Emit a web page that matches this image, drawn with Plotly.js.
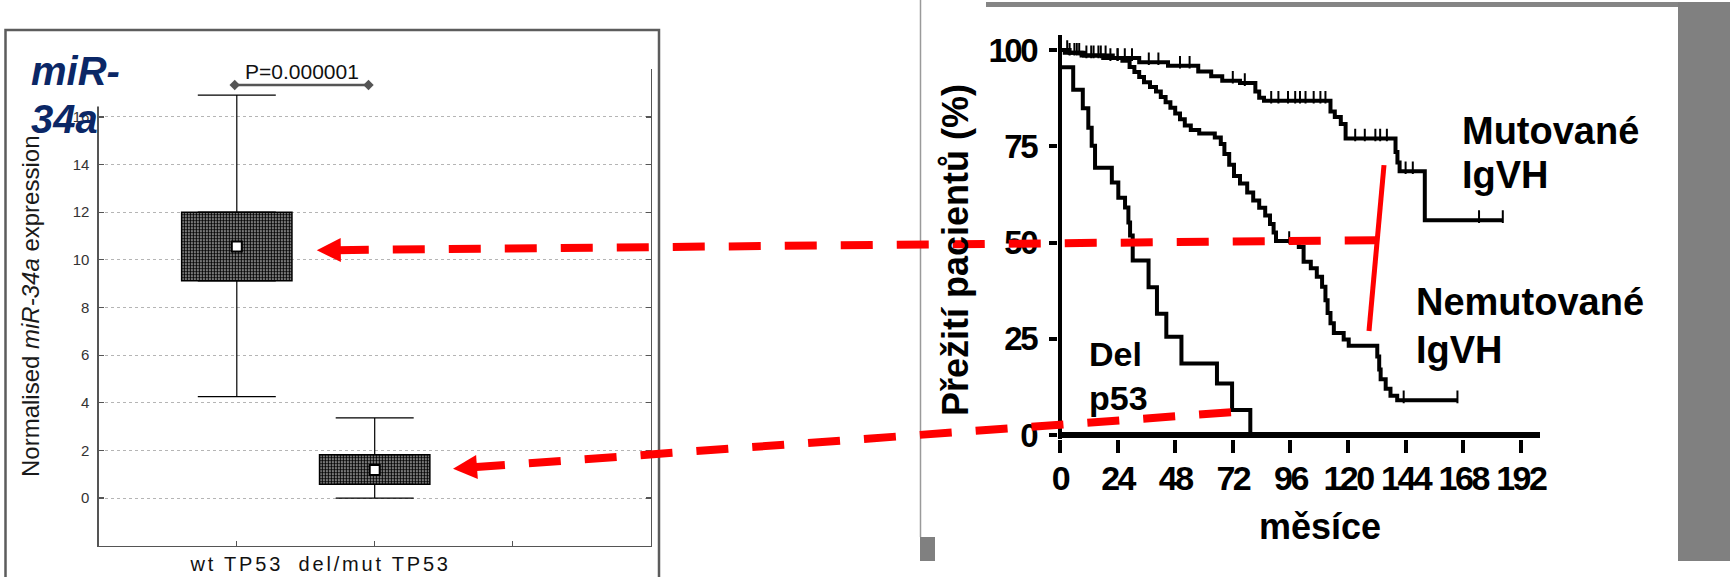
<!DOCTYPE html>
<html>
<head>
<meta charset="utf-8">
<script src="https://cdn.plot.ly/plotly-3.0.1.min.js"></script>
<style>
  html, body { margin: 0; padding: 0; background: #ffffff; }
  #chart { width: 1730px; height: 577px; }
  /* wide category labels under the box plot */
  #chart .xtick text { letter-spacing: 2.8px; }
  /* tight, condensed-looking digits on the survival axes */
  #chart .x2tick text, #chart .y2tick text { letter-spacing: -2.5px; }
</style>
</head>
<body>
<div id="chart"></div>
<script>
// ---------- miR-34a expression by TP53 status ----------
const groups      = ['wt TP53', 'del/mut TP53'];
const groupPos    = [1, 2];
const meanExpr    = [10.56, 1.18];
const boxLow      = [9.12, 0.58];
const boxHigh     = [12.0, 1.82];
const whiskerLow  = [4.26, 0.0];
const whiskerHigh = [16.92, 3.37];
const exprTicks   = [0, 2, 4, 6, 8, 10, 12, 14, 16];
const pValueText  = 'P=0.000001';
const pBracketX   = [0.985, 1.955];
const pBracketY   = 17.34;

// ---------- overall survival (Kaplan-Meier), months vs % ----------
const monthTicks = [0, 24, 48, 72, 96, 120, 144, 168, 192];
const survTicks  = [0, 25, 50, 75, 100];

const mutMonths = [0, 2, 9, 22, 33, 45, 57.6, 63, 67.6, 75, 81.4, 83, 85, 112.7, 114.5, 117, 119, 139.8, 140.6, 141.5, 152, 184.5];
const mutSurv   = [100, 99.3, 98.6, 97.9, 96.8, 95.9, 94.4, 93.2, 92.0, 91.4, 89.2, 87.6, 86.8, 84.0, 82.6, 80.8, 77.0, 73.5, 70.8, 68.5, 55.8, 55.8];
const mutCensor = [4, 7, 11, 14, 17, 19, 24, 27, 30, 37, 41, 50, 54, 72, 77, 88, 91, 95, 98, 100, 102.3, 105.7, 108.5, 110.6, 123, 127, 131.4, 133.4, 136.2, 144, 147, 174.6, 184.5];

const unmMonths = [0, 4, 10, 18, 26, 29, 31, 33, 35, 37.5, 40, 42, 44, 46, 48, 50, 52, 54.5, 58, 64.5, 67, 68.5, 70.5, 72.5, 75, 78, 80.5, 83, 85.5, 87.5, 89, 90, 99.5, 101.5, 104.5, 107, 109.2, 110.6, 111.5, 112.7, 114.1, 118.2, 120.3, 132.2, 133, 133.6, 135.7, 137.7, 140.5, 165.6];
const unmSurv   = [100, 99.3, 98.6, 97.9, 97.2, 95.6, 94.3, 93.0, 91.6, 90.4, 89.2, 87.8, 86.4, 85.0, 83.5, 82.0, 80.4, 79.2, 78.3, 77.3, 75.6, 73.0, 70.2, 67.3, 65.3, 63.0, 60.9, 59.0, 57.0, 54.8, 52.6, 50.4, 48.8, 45.0, 43.3, 41.1, 38.5, 35.0, 31.7, 29.0, 26.5, 24.8, 23.2, 20.4, 17.0, 14.5, 12.0, 10.2, 9.0, 9.0];
const unmCensor = [3, 6, 8, 13, 16, 21, 24, 95.5, 143.2, 165.6];

const delMonths = [0, 0, 5.5, 9.5, 11.8, 13.2, 14.6, 21.6, 24.3, 27.1, 28.5, 29.2, 30.3, 36.9, 40.4, 44.3, 50.6, 65.4, 71.7, 79.3];
const delSurv   = [100, 95.5, 89.7, 84.9, 79.8, 75.1, 69.4, 65.6, 61.6, 59.1, 55.2, 51.8, 45.3, 38.4, 31.5, 25.5, 18.6, 13.4, 6.5, 0];

// red connectors: arrow tips in the box plot, tails on the survival curves
const arrowTipX  = [1.58, 2.568];
const arrowTipY  = [10.4, 1.23];
const arrowTailM = [132.1, 73.5];
const arrowTailS = [50.6, 6.0];
// solid marker between the IgVH curves
const gapMonths = [135, 128.75];
const gapSurv   = [70.1, 27.0];

// ---------- page geometry ----------
const W = 1730, H = 577;
const boxPanel = {left: 98.9, right: 650.5, top: 69.3, bottom: 545.7, xr: [0, 4], yr: [-2, 18]};
const kmPanel  = {left: 1057.6, right: 1540, top: 34.6, bottom: 438.85, xr: [-1, 200], yr: [-1, 104]};

const pxX = (p, v) => p.left + (v - p.xr[0]) / (p.xr[1] - p.xr[0]) * (p.right - p.left);
const pxY = (p, v) => p.bottom - (v - p.yr[0]) / (p.yr[1] - p.yr[0]) * (p.bottom - p.top);
const fx = x => x / W;
const fy = y => 1 - y / H;
const survPerPx = (kmPanel.yr[1] - kmPanel.yr[0]) / (kmPanel.bottom - kmPanel.top);

function survAt(months, surv, t) {
  let s = surv[0];
  for (let i = 0; i < months.length; i++) { if (months[i] <= t) s = surv[i]; }
  return s;
}

const SANS = 'Liberation Sans, Arial, Helvetica, sans-serif';
const NARROW = 'Liberation Sans Narrow, Arial Narrow, Liberation Sans, Arial, sans-serif';

// ---------- traces ----------
const traces = [];

traces.push({
  type: 'bar', x: groupPos, base: boxLow,
  y: boxHigh.map((h, i) => h - boxLow[i]),
  width: 0.8, xaxis: 'x', yaxis: 'y', hoverinfo: 'skip',
  marker: {
    color: '#ffffff',
    line: {color: '#000000', width: 1.5},
    pattern: {shape: '.', fgcolor: '#000000', bgcolor: '#ffffff', size: 3, solidity: 0.75, fillmode: 'replace'}
  }
});

traces.push({
  type: 'scatter', mode: 'markers', x: groupPos, y: boxHigh, xaxis: 'x', yaxis: 'y',
  marker: {size: 1, opacity: 0}, hoverinfo: 'skip',
  error_y: {type: 'data', symmetric: false, array: whiskerHigh.map((w, i) => w - boxHigh[i]),
            arrayminus: boxHigh.map(() => 0), color: '#000000', thickness: 1.2, width: 39}
});
traces.push({
  type: 'scatter', mode: 'markers', x: groupPos, y: boxLow, xaxis: 'x', yaxis: 'y',
  marker: {size: 1, opacity: 0}, hoverinfo: 'skip',
  error_y: {type: 'data', symmetric: false, array: boxLow.map(() => 0),
            arrayminus: boxLow.map((b, i) => b - whiskerLow[i]), color: '#000000', thickness: 1.2, width: 39}
});

traces.push({
  type: 'scatter', mode: 'markers', x: groupPos, y: meanExpr, xaxis: 'x', yaxis: 'y',
  hoverinfo: 'skip',
  marker: {symbol: 'square', size: 10, color: '#ffffff', line: {color: '#000000', width: 2}}
});

traces.push({
  type: 'scatter', mode: 'lines+markers', x: pBracketX, y: [pBracketY, pBracketY], xaxis: 'x', yaxis: 'y',
  hoverinfo: 'skip', cliponaxis: false,
  line: {color: '#555555', width: 2.5},
  marker: {symbol: 'diamond', size: 8, color: '#555555'}
});

[[mutMonths, mutSurv], [unmMonths, unmSurv], [delMonths, delSurv]].forEach(([m, s]) => {
  traces.push({
    type: 'scatter', mode: 'lines', x: m, y: s, xaxis: 'x2', yaxis: 'y2', hoverinfo: 'skip',
    line: {color: '#000000', width: 4, shape: 'hv'}
  });
});

const tickLift = 3.5 * survPerPx;
[[mutCensor, mutMonths, mutSurv], [unmCensor, unmMonths, unmSurv]].forEach(([c, m, s]) => {
  traces.push({
    type: 'scatter', mode: 'markers', x: c, y: c.map(t => survAt(m, s, t) + tickLift),
    xaxis: 'x2', yaxis: 'y2', hoverinfo: 'skip',
    marker: {symbol: 'line-ns', size: 9, line: {color: '#000000', width: 2}}
  });
});

// ---------- shapes ----------
const shapes = [];
const rectPx = (x0, y0, x1, y1, fill, layer) => ({
  type: 'rect', xref: 'paper', yref: 'paper', layer: layer || 'below',
  x0: fx(x0), x1: fx(x1), y0: fy(y1), y1: fy(y0), fillcolor: fill, line: {width: 0}
});

// frame around the expression panel
shapes.push({type: 'rect', xref: 'paper', yref: 'paper', layer: 'below',
  x0: fx(5.5), x1: fx(659), y0: fy(585), y1: fy(30), line: {color: '#5c5c5c', width: 2.5}});
// white label box behind the title
shapes.push(rectPx(26, 36, 103, 106.5, '#ffffff', 'above'));
// grey slide border pieces
shapes.push({type: 'line', xref: 'paper', yref: 'paper', layer: 'below',
  x0: fx(920.5), x1: fx(920.5), y0: fy(0), y1: fy(537), line: {color: '#9a9a9a', width: 1.5}});
shapes.push(rectPx(920, 537, 935, 561, '#808080'));
shapes.push(rectPx(986, 2, 1730, 7, '#858585'));
shapes.push(rectPx(1678, 2, 1730, 561, '#808080'));

// dashed arrows
arrowTipX.forEach((_, i) => {
  const tx = pxX(boxPanel, arrowTipX[i]), ty = pxY(boxPanel, arrowTipY[i]);
  const sx = pxX(kmPanel, arrowTailM[i]), sy = pxY(kmPanel, arrowTailS[i]);
  const len = Math.hypot(sx - tx, sy - ty);
  const ux = (sx - tx) / len, uy = (sy - ty) / len;
  const bx = tx + ux * 24, by = ty + uy * 24;
  const nx = -uy, ny = ux;
  shapes.push({type: 'path', xref: 'paper', yref: 'paper', layer: 'above',
    fillcolor: '#ff0000', line: {width: 0},
    path: `M${fx(tx)},${fy(ty)} L${fx(bx + nx * 12)},${fy(by + ny * 12)} L${fx(bx - nx * 12)},${fy(by - ny * 12)} Z`});
  shapes.push({type: 'line', xref: 'paper', yref: 'paper', layer: 'above',
    x0: fx(bx - ux * 4), y0: fy(by - uy * 4), x1: fx(sx), y1: fy(sy),
    line: {color: '#ff0000', width: 8, dash: '32px,24px'}});
});
shapes.push({type: 'line', xref: 'x2', yref: 'y2', layer: 'above',
  x0: gapMonths[0], y0: gapSurv[0], x1: gapMonths[1], y1: gapSurv[1],
  line: {color: '#ff0000', width: 5}});

// ---------- annotations ----------
const ann = (text, x, y, size, opts) => Object.assign({
  text: text, xref: 'paper', yref: 'paper', x: fx(x), y: fy(y),
  xanchor: 'left', yanchor: 'middle', showarrow: false,
  font: {family: SANS, size: size, color: '#000000', weight: 'bold'}
}, opts || {});

const annotations = [
  {text: pValueText, xref: 'x', yref: 'y', x: (pBracketX[0] + pBracketX[1]) / 2, y: pBracketY,
   yshift: 13.5, showarrow: false, xanchor: 'center', yanchor: 'middle',
   font: {family: SANS, size: 21, color: '#111111'}},
  ann('miR-', 29, 71, 40, {font: {family: SANS, size: 40, color: '#0b2766', weight: 'bold', style: 'italic'}}),
  ann('34a', 29, 119, 40, {font: {family: SANS, size: 40, color: '#0b2766', weight: 'bold', style: 'italic'}}),
  ann('Normalised <i>miR-34a</i> expression', 30, 307, 24,
      {xanchor: 'center', textangle: -90, font: {family: SANS, size: 24, color: '#1a1a1a'}}),
  ann('Přežití pacientů (%)', 955, 250, 36, {xanchor: 'center', textangle: -90}),
  ann('měsíce', 1319.5, 526, 36, {xanchor: 'center'}),
  ann('Mutované', 1460, 131, 38),
  ann('IgVH', 1460, 175, 38),
  ann('Nemutované', 1414, 302, 38),
  ann('IgVH', 1414, 350, 38),
  ann('Del', 1087, 354, 34),
  ann('p53', 1087, 397.5, 34)
];

// ---------- layout ----------
const layout = {
  width: W, height: H,
  margin: {l: 0, r: 0, t: 0, b: 0},
  paper_bgcolor: '#ffffff', plot_bgcolor: 'rgba(0,0,0,0)',
  showlegend: false,
  font: {family: SANS, color: '#000000'},
  xaxis: {
    domain: [fx(boxPanel.left), fx(boxPanel.right)], anchor: 'y',
    range: boxPanel.xr, tickvals: [1, 2, 3], ticktext: groups.concat(['']),
    ticks: 'inside', ticklen: 5, tickcolor: '#555555', tickwidth: 1.2, tickangle: 0,
    showline: true, linecolor: '#555555', linewidth: 1.5,
    showgrid: false, zeroline: false, fixedrange: true,
    tickfont: {family: SANS, size: 20, color: '#111111'}
  },
  yaxis: {
    domain: [fy(boxPanel.bottom), fy(boxPanel.top)], anchor: 'x',
    range: boxPanel.yr, tickvals: exprTicks, ticks: 'inside', ticklen: 5,
    tickcolor: '#555555', tickwidth: 1.2, mirror: 'ticks',
    showline: true, linecolor: '#555555', linewidth: 1.5,
    showgrid: true, gridcolor: '#b5b5b5', gridwidth: 1, griddash: 'dot',
    zeroline: false, fixedrange: true, ticklabelstandoff: 5,
    tickfont: {family: SANS, size: 15, color: '#333333'}
  },
  xaxis2: {
    domain: [fx(kmPanel.left), fx(kmPanel.right)], anchor: 'y2',
    range: kmPanel.xr, tickvals: monthTicks, ticks: 'outside', ticklen: 13, tickwidth: 4,
    tickcolor: '#000000', showline: false, showgrid: false, tickangle: 0, ticklabelstandoff: -4,
    zeroline: true, zerolinecolor: '#000000', zerolinewidth: 4, fixedrange: true,
    tickfont: {family: NARROW, size: 34, color: '#000000', weight: 'bold'}
  },
  yaxis2: {
    domain: [fy(kmPanel.bottom), fy(kmPanel.top)], anchor: 'x2',
    range: kmPanel.yr, tickvals: survTicks, ticks: 'outside', ticklen: 8, tickwidth: 4,
    tickcolor: '#000000', showline: false, showgrid: false, ticklabelstandoff: 6,
    zeroline: true, zerolinecolor: '#000000', zerolinewidth: 6, fixedrange: true,
    tickfont: {family: NARROW, size: 33, color: '#000000', weight: 'bold'}
  },
  shapes: shapes,
  annotations: annotations
};

Plotly.newPlot('chart', traces, layout, {staticPlot: true, displayModeBar: false});
</script>
</body>
</html>
